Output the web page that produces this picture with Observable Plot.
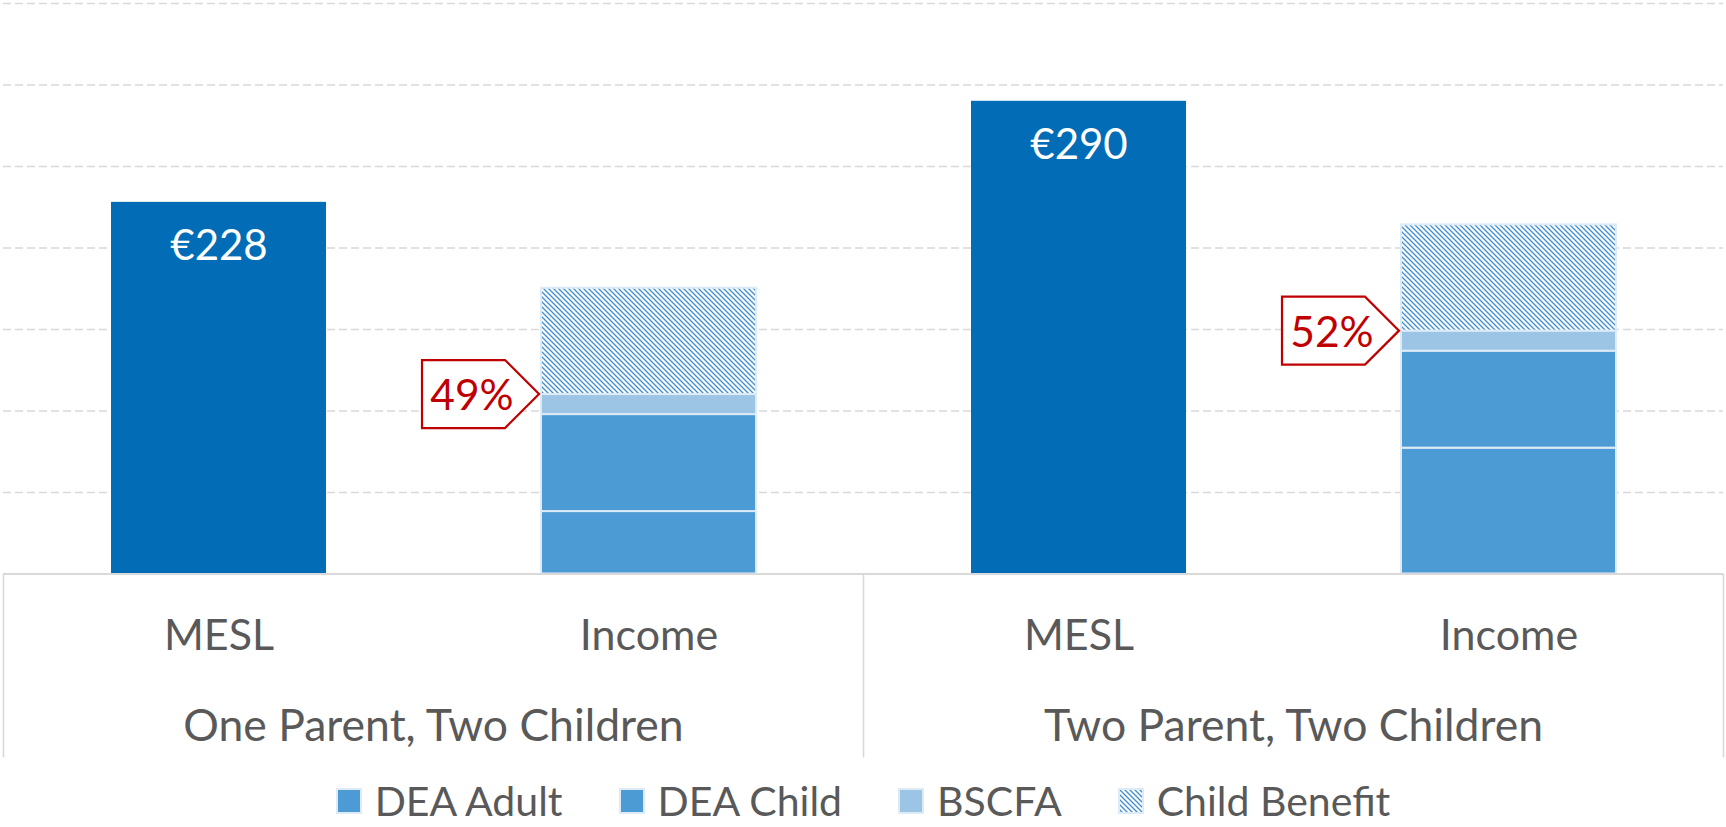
<!DOCTYPE html>
<html>
<head>
<meta charset="utf-8">
<script src="https://cdn.jsdelivr.net/npm/d3@7"></script>
<script src="https://cdn.jsdelivr.net/npm/@observablehq/plot@0.6"></script>
<style>
  html, body { margin: 0; padding: 0; background: #fff; }
  #chart { position: relative; width: 1726px; height: 827px; font-family: Lato, sans-serif; overflow: hidden; }
  #legend { position: absolute; left: 0; top: 778px; width: 1726px; height: 44px;
            display: flex; justify-content: center; align-items: center; }
  .item { display: flex; align-items: center; margin: 0 28px; }
  .item svg { display: block; margin-right: 13px; margin-top: 2px; }
  .item span { font-family: Lato, sans-serif; font-size: 41px; color: #595959; line-height: 1; }
</style>
</head>
<body>
<div id="chart"><div id="legend"></div></div>
<script>
// ---- data ----
const groups = ["One Parent, Two Children", "Two Parent, Two Children"];
const barTypes = ["MESL", "Income"];
const meslValues = [228, 290];
const meslLabels = ["€228", "€290"];
const seriesNames = ["DEA Adult", "DEA Child", "BSCFA", "Child Benefit"];
const deaAdult = [38.3, 77.2];
const deaChild = [59.5, 59.5];
const bscfa = [12.3, 12.3];
const childBenefit = [65.2, 65.2];
const adequacyLabels = ["49%", "52%"];
const yGridTicks = [50, 100, 150, 200, 250, 300, 350];

// ---- styles ----
const meslColor = "#026DB6";
const seriesFills = ["#4D9BD4", "#4D9BD4", "#9BC4E5", "url(#hatchCB)"];
const textGray = "#595959";
const lineGray = "#D9D9D9";
const calloutRed = "#C00000";
const hatchColor = "#3F8FD2";

const key = (g, t) => g + "|" + t;
const keys = groups.flatMap(g => barTypes.map(t => key(g, t)));

const meslRows = groups.map((g, i) => ({key: key(g, "MESL"), value: meslValues[i], label: meslLabels[i]}));
const seriesArrays = [deaAdult, deaChild, bscfa, childBenefit];
const incomeRows = groups.flatMap((g, i) =>
  seriesNames.map((s, j) => ({key: key(g, "Income"), series: s, value: seriesArrays[j][i]})));
const catRows = groups.flatMap(g => barTypes.map(t => ({key: key(g, t), type: t})));

function addHatch(sel, id) {
  const p = sel.append("defs").append("pattern")
    .attr("id", id).attr("patternUnits", "userSpaceOnUse")
    .attr("width", 5).attr("height", 5);
  p.append("rect").attr("width", 5).attr("height", 5).attr("fill", "#fff");
  p.append("path").attr("d", "M-1,-1L6,6M-1,4L1,6M4,-1L6,1")
    .attr("stroke", hatchColor).attr("stroke-width", 1.35);
}

function defsMark() {
  const g = d3.create("svg:g");
  addHatch(g, "hatchCB");
  return g.node();
}

function bandInfo(x) {
  const bw = typeof x.bandwidth === "function" ? x.bandwidth() : 215;
  const step = typeof x.step === "function" ? x.step() : 430;
  return {bw, step};
}

function axisBox(index, scales) {
  const x = scales.x, y = scales.y;
  const {bw, step} = bandInfo(x);
  const g = d3.create("svg:g");
  const y0 = y(0), yEnd = y0 + 184;
  const edges = [];
  groups.forEach((grp, i) => {
    const first = x(key(grp, barTypes[0]));
    const last = x(key(grp, barTypes[barTypes.length - 1]));
    const left = first - (step - bw) / 2;
    const right = last + bw + (step - bw) / 2;
    if (i === 0) edges.push(left);
    edges.push(right);
    g.append("text")
      .attr("x", (first + last + bw) / 2).attr("y", y0 + 152.5)
      .attr("dy", "0.34em")
      .attr("text-anchor", "middle")
      .attr("font-family", "Lato, sans-serif").attr("font-size", 44.5)
      .attr("fill", textGray).text(grp);
  });
  edges.forEach(e => {
    g.append("line").attr("x1", e).attr("x2", e).attr("y1", y0).attr("y2", yEnd)
      .attr("stroke", lineGray).attr("stroke-width", 1.6);
  });
  return g.node();
}

function callouts(index, scales) {
  const x = scales.x, y = scales.y;
  const g = d3.create("svg:g");
  groups.forEach((grp, i) => {
    const tipX = x(key(grp, "Income")) - 2;
    const tipY = y(deaAdult[i] + deaChild[i] + bscfa[i]);
    const half = 34, arrowW = 34, bodyW = 83;
    const left = tipX - arrowW - bodyW;
    g.append("path")
      .attr("d", `M${left},${tipY - half}H${tipX - arrowW}L${tipX},${tipY}L${tipX - arrowW},${tipY + half}H${left}Z`)
      .attr("fill", "#fff").attr("stroke", calloutRed).attr("stroke-width", 2.2)
      .attr("stroke-linejoin", "miter");
    g.append("text")
      .attr("x", tipX - 67).attr("y", tipY + 2).attr("dy", "0.34em")
      .attr("text-anchor", "middle")
      .attr("font-family", "Lato, sans-serif").attr("font-size", 42.5)
      .attr("fill", calloutRed).text(adequacyLabels[i]);
  });
  return g.node();
}

const chart = Plot.plot({
  width: 1726,
  height: 775,
  marginTop: 3,
  marginBottom: 201.5,
  marginLeft: 3,
  marginRight: 3,
  style: {fontFamily: "Lato, sans-serif", background: "#fff", overflow: "visible"},
  x: {domain: keys, paddingInner: 0.5, paddingOuter: 0.25, axis: null},
  y: {domain: [0, 350], axis: null},
  color: {domain: seriesNames, range: seriesFills},
  marks: [
    defsMark,
    Plot.ruleY(yGridTicks, {stroke: lineGray, strokeWidth: 1.5, strokeDasharray: "8,4"}),
    Plot.barY(meslRows, {x: "key", y: "value", fill: meslColor}),
    Plot.barY(incomeRows, Plot.stackY({x: "key", y: "value", fill: "series", order: seriesNames,
      stroke: "#DDEBF7", strokeWidth: 2})),
    Plot.ruleY([0], {stroke: lineGray, strokeWidth: 2}),
    axisBox,
    Plot.text(catRows, {x: "key", y: 0, text: "type", dy: 62.5, fill: textGray, fontSize: 43,
      lineAnchor: "middle"}),
    Plot.text(meslRows, {x: "key", y: "value", text: "label", dy: 44, fill: "#fff", fontSize: 42,
      lineAnchor: "middle"}),
    callouts
  ]
});
document.getElementById("chart").prepend(chart);

// ---- legend ----
const legend = d3.select("#legend");
seriesNames.forEach((s, j) => {
  const item = legend.append("div").attr("class", "item");
  const sw = item.append("svg").attr("width", 26).attr("height", 26);
  const hatched = seriesFills[j].startsWith("url");
  if (hatched) addHatch(sw, "hatchLeg");
  sw.append("rect").attr("x", 1).attr("y", 1).attr("width", 24).attr("height", 24)
    .attr("fill", hatched ? "url(#hatchLeg)" : seriesFills[j])
    .attr("stroke", "#DDEBF7").attr("stroke-width", 2);
  item.append("span").text(s);
});
</script>
</body>
</html>
